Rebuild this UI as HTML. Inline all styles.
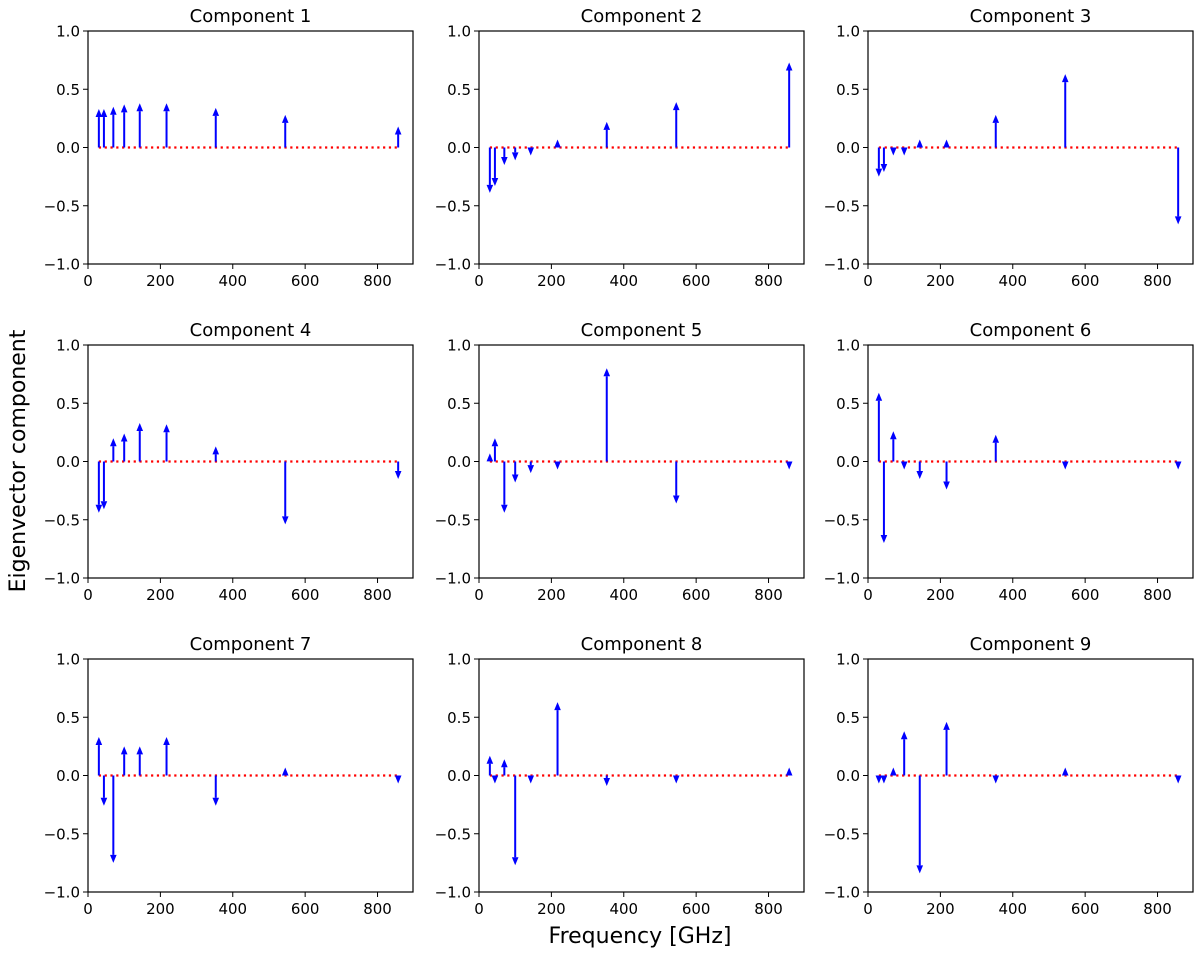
<!DOCTYPE html>
<html><head><meta charset="utf-8"><style>
body{margin:0;background:#fff;}
svg text{font-family:"DejaVu Sans","Liberation Sans",sans-serif;fill:#000;}
</style></head><body>
<svg id="fig" width="1200" height="951" xmlns="http://www.w3.org/2000/svg">
<text x="0" y="0" transform="translate(25,461) rotate(-90)" text-anchor="middle" font-size="22">Eigenvector component</text>
<text x="640" y="943" text-anchor="middle" font-size="22">Frequency [GHz]</text>
</svg>
<script>
const frequencies = [30, 44, 70, 100, 143, 217, 353, 545, 857];
const comp1 = [0.33, 0.33, 0.35, 0.37, 0.38, 0.38, 0.34, 0.28, 0.18];
const comp2 = [-0.39, -0.33, -0.15, -0.11, -0.01, 0.05, 0.22, 0.39, 0.73];
const comp3 = [-0.25, -0.21, -0.04, -0.06, 0.01, 0.06, 0.28, 0.63, -0.66];
const comp4 = [-0.44, -0.41, 0.20, 0.24, 0.33, 0.32, 0.13, -0.54, -0.15];
const comp5 = [0.07, 0.20, -0.44, -0.18, -0.10, -0.02, 0.80, -0.36, -0.03];
const comp6 = [0.59, -0.70, 0.26, -0.03, -0.15, -0.24, 0.23, -0.03, -0.01];
const comp7 = [0.33, -0.26, -0.75, 0.25, 0.25, 0.33, -0.26, 0.05, -0.02];
const comp8 = [0.17, -0.03, 0.14, -0.77, -0.02, 0.63, -0.09, -0.05, 0.02];
const comp9 = [-0.04, -0.03, 0.03, 0.38, -0.84, 0.46, -0.03, 0.02, -0.03];
const components = [comp1, comp2, comp3, comp4, comp5, comp6, comp7, comp8, comp9];
const xTicks = [0, 200, 400, 600, 800];
const yTicks = [1.0, 0.5, 0.0, -0.5, -1.0];
const yTickLabels = ["1.0", "0.5", "0.0", "\u22120.5", "\u22121.0"];

const NS = "http://www.w3.org/2000/svg";
const svg = document.getElementById('fig');
const colX = [88, 479, 868], rowY = [31, 345, 659], W = 325, H = 233;
const XMAX = 898;
function mk(tag, attrs, parent){ const e=document.createElementNS(NS,tag); for(const k in attrs) e.setAttribute(k,attrs[k]); parent.appendChild(e); return e; }

components.forEach((vals, i) => {
  const L = colX[i%3], T = rowY[Math.floor(i/3)];
  const xs = v => L + v / XMAX * W;
  const ys = v => T + (1 - v) / 2 * H;
  const g = mk('g', {}, svg);
  
  
  const title = mk('text', {x: L + W/2, y: T - 9, 'text-anchor':'middle', 'font-size':18}, g);
  title.textContent = 'Component ' + (i+1);
  
  
  const zl = mk('line', {x1: xs(frequencies[0]), x2: xs(frequencies[frequencies.length-1]), y1: ys(0), y2: ys(0), stroke:'#ff0000', 'stroke-width':2.2, 'stroke-dasharray':'2.2 3.6'}, g);
  
  
  vals.forEach((v, j) => {
    const x = xs(frequencies[j]), y0 = ys(0);
    let yt = ys(v);
    const s = v >= 0 ? 1 : -1;
    const hl = 8, hw = 3.3;
    let yb = yt + s*hl;
    if (Math.abs(y0 - yt) < hl) { yb = y0; yt = y0 - s*hl; }
    const a = mk('g', {}, g);
    
    
    if (Math.abs(y0 - yb) > 0.5) mk('line', {x1:x, x2:x, y1:y0, y2:yb, stroke:'#0000ff', 'stroke-width':2}, a);
    mk('polygon', {points: `${x},${yt} ${x-hw},${yb} ${x+hw},${yb}`, fill:'#0000ff'}, a);
  });
  const fr = mk('rect', {x:L, y:T, width:W, height:H, fill:'none', stroke:'#000', 'stroke-width':1.2}, g);
  
  
  xTicks.forEach(t => {
    const x = xs(t);
    mk('line', {x1:x, x2:x, y1:T+H, y2:T+H+5, stroke:'#000', 'stroke-width':1}, g);
    const tx = mk('text', {x:x, y:T+H+22, 'text-anchor':'middle', 'font-size':15}, g);
    tx.textContent = t;
    
    
  });
  yTicks.forEach((t, k) => {
    const y = ys(t);
    mk('line', {x1:L-5, x2:L, y1:y, y2:y, stroke:'#000', 'stroke-width':1}, g);
    const ty = mk('text', {x:L-8, y:y+5.5, 'text-anchor':'end', 'font-size':15}, g);
    ty.textContent = yTickLabels[k];
    
    
  });
});
</script>
</body></html>
